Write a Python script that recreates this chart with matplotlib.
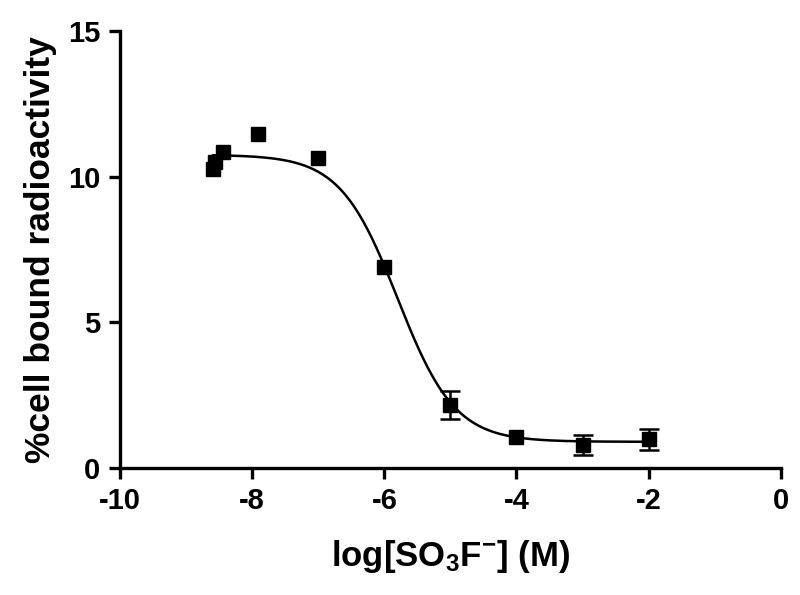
import numpy as np
import matplotlib
matplotlib.use("Agg")
import matplotlib.pyplot as plt

# Data
log_conc = [-8.59, -8.56, -8.44, -7.91, -7.0, -6.0, -5.0, -4.0, -3.0, -2.0]
bound = [10.25, 10.5, 10.85, 11.45, 10.65, 6.9, 2.15, 1.08, 0.8, 0.98]
err = [0.0, 0.0, 0.0, 0.0, 0.15, 0.0, 0.48, 0.0, 0.35, 0.35]

# fitted sigmoid parameters
fit_top = 10.75
fit_bottom = 0.9
fit_logic50 = -5.8
fit_hill = 1.0

xticks = [-10, -8, -6, -4, -2, 0]
yticks = [0, 5, 10, 15]

plt.rcParams['font.family'] = ['Liberation Sans', 'DejaVu Sans']
plt.rcParams['mathtext.fontset'] = 'custom'
plt.rcParams['mathtext.rm'] = 'Liberation Sans:bold'
plt.rcParams['mathtext.it'] = 'Liberation Sans:bold'
plt.rcParams['mathtext.bf'] = 'Liberation Sans:bold'

fig = plt.figure(figsize=(8, 5.95), dpi=100)
ax = fig.add_axes([0.15, 0.2134, 0.826, 0.7346])

xc = np.linspace(min(log_conc), max(log_conc), 300)
yc = fit_bottom + (fit_top - fit_bottom) / (1 + 10 ** ((xc - fit_logic50) * fit_hill))
ax.plot(xc, yc, color='black', lw=1.8, zorder=2)

ex = [x for x, e in zip(log_conc, err) if e > 0.2]
ey = [y for y, e in zip(bound, err) if e > 0.2]
ee = [e for e in err if e > 0.2]
ax.errorbar(ex, ey, yerr=ee, fmt='none', ecolor='black',
            elinewidth=1.8, capsize=7, capthick=1.8, zorder=3)
ax.plot(log_conc, bound, 's', color='black', ms=10, zorder=4)

ax.set_xlim(-10, 0)
ax.set_ylim(0, 15)
ax.set_xticks(xticks)
ax.set_yticks(yticks)
ax.set_xticklabels([str(t) for t in xticks])
ax.set_yticklabels([str(t) for t in yticks])

for s in ['top', 'right']:
    ax.spines[s].set_visible(False)
for s in ['left', 'bottom']:
    ax.spines[s].set_linewidth(2.4)
ax.tick_params(width=2.4, length=8, direction='out', labelsize=21, pad=6)
for lab in ax.get_xticklabels() + ax.get_yticklabels():
    lab.set_fontweight('bold')

ax.set_xlabel(r'log[SO$_\mathrm{3}$F$^{\mathrm{-}}$] (M)', fontsize=25, fontweight='bold', labelpad=16)
ax.set_ylabel('%cell bound radioactivity', fontsize=25.5, fontweight='bold', labelpad=8)

fig.savefig('out.png', dpi=100)
